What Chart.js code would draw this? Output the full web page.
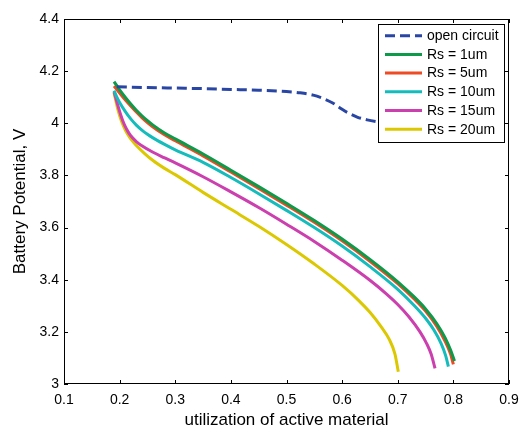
<!DOCTYPE html>
<html>
<head>
<meta charset="utf-8">
<script src="https://cdn.jsdelivr.net/npm/chart.js@4"></script>
<style>
  html, body { margin: 0; padding: 0; background: #fff; }
  #wrap { width: 521px; height: 431px; }
</style>
</head>
<body>
<div id="wrap"><canvas id="c" width="521" height="431"></canvas></div>
<script>
// Discharge curves: battery potential vs. utilization of active material
const seriesNames = ['open circuit', 'Rs = 1um', 'Rs = 5um', 'Rs = 10um', 'Rs = 15um', 'Rs = 20um'];

const uOpen = [0.195, 0.25, 0.30, 0.35, 0.40, 0.45, 0.50, 0.524, 0.548, 0.566, 0.584, 0.597, 0.609, 0.627, 0.645, 0.665, 0.70, 0.75, 0.80];
const vOpen = [4.140, 4.137, 4.135, 4.133, 4.130, 4.127, 4.122, 4.117, 4.108, 4.095, 4.077, 4.058, 4.042, 4.024, 4.013, 4.005, 3.995, 3.985, 3.975];

const u1 = [0.190, 0.200, 0.210, 0.220, 0.230, 0.240, 0.250, 0.260, 0.280, 0.300, 0.350, 0.400, 0.450, 0.500, 0.550, 0.600, 0.650, 0.700, 0.730, 0.750, 0.770, 0.785, 0.795, 0.802];
const v1 = [4.160, 4.128, 4.100, 4.074, 4.050, 4.029, 4.010, 3.993, 3.964, 3.940, 3.882, 3.820, 3.757, 3.693, 3.627, 3.556, 3.478, 3.392, 3.333, 3.288, 3.232, 3.178, 3.130, 3.088];

const u5 = [0.190, 0.200, 0.210, 0.220, 0.230, 0.240, 0.250, 0.260, 0.280, 0.300, 0.350, 0.400, 0.450, 0.500, 0.550, 0.600, 0.650, 0.700, 0.730, 0.750, 0.770, 0.785, 0.795, 0.800];
const v5 = [4.143, 4.116, 4.090, 4.066, 4.043, 4.022, 4.003, 3.986, 3.957, 3.933, 3.875, 3.813, 3.750, 3.686, 3.620, 3.549, 3.471, 3.385, 3.325, 3.280, 3.222, 3.165, 3.115, 3.075];

const u10 = [0.190, 0.195, 0.200, 0.210, 0.220, 0.230, 0.240, 0.250, 0.260, 0.280, 0.300, 0.350, 0.400, 0.450, 0.500, 0.550, 0.600, 0.650, 0.700, 0.730, 0.750, 0.765, 0.778, 0.786, 0.791];
const v10 = [4.125, 4.100, 4.080, 4.046, 4.017, 3.993, 3.974, 3.958, 3.944, 3.920, 3.898, 3.850, 3.792, 3.730, 3.666, 3.600, 3.529, 3.450, 3.363, 3.300, 3.252, 3.207, 3.155, 3.110, 3.067];

const u15 = [0.190, 0.194, 0.198, 0.202, 0.206, 0.210, 0.215, 0.220, 0.230, 0.240, 0.260, 0.280, 0.300, 0.350, 0.400, 0.450, 0.500, 0.550, 0.600, 0.650, 0.680, 0.700, 0.720, 0.740, 0.752, 0.760, 0.767];
const v15 = [4.121, 4.090, 4.060, 4.032, 4.008, 3.988, 3.968, 3.952, 3.930, 3.914, 3.889, 3.868, 3.848, 3.795, 3.737, 3.677, 3.613, 3.547, 3.475, 3.398, 3.345, 3.305, 3.258, 3.200, 3.155, 3.115, 3.060];

const u20 = [0.190, 0.193, 0.196, 0.200, 0.205, 0.210, 0.215, 0.220, 0.230, 0.245, 0.260, 0.280, 0.300, 0.350, 0.400, 0.450, 0.500, 0.550, 0.600, 0.630, 0.650, 0.670, 0.685, 0.695, 0.701];
const v20 = [4.117, 4.088, 4.060, 4.030, 3.999, 3.975, 3.956, 3.940, 3.915, 3.884, 3.857, 3.828, 3.803, 3.735, 3.670, 3.605, 3.535, 3.460, 3.378, 3.320, 3.275, 3.220, 3.170, 3.115, 3.047];

const xTicks = [0.1, 0.2, 0.3, 0.4, 0.5, 0.6, 0.7, 0.8, 0.9];
const xTickLabels = ['0.1', '0.2', '0.3', '0.4', '0.5', '0.6', '0.7', '0.8', '0.9'];
const yTicks = [3, 3.2, 3.4, 3.6, 3.8, 4, 4.2, 4.4];
const yTickLabels = ['3', '3.2', '3.4', '3.6', '3.8', '4', '4.2', '4.4'];

const colors = ['#2a46a4', '#0d9a4a', '#ee4a24', '#16bcbc', '#cc3fae', '#dcc800'];

const pts = (us, vs) => us.map((u, i) => ({ x: u, y: vs[i] }));
const seriesData = [pts(uOpen, vOpen), pts(u1, v1), pts(u5, v5), pts(u10, v10), pts(u15, v15), pts(u20, v20)];

const FONT = '"Liberation Sans", Arial, Helvetica, sans-serif';

// Box frame with inward tick marks on all four sides
const framePlugin = {
  id: 'frame',
  afterDatasetsDraw(chart) {
    const { ctx, chartArea: a, scales } = chart;
    const tl = 4;
    ctx.save();
    ctx.strokeStyle = '#000';
    ctx.lineWidth = 1;
    ctx.beginPath();
    scales.x.ticks.forEach(t => {
      const px = Math.round(scales.x.getPixelForValue(t.value)) + 0.5;
      ctx.moveTo(px, a.bottom); ctx.lineTo(px, a.bottom - tl);
      ctx.moveTo(px, a.top); ctx.lineTo(px, a.top + tl);
    });
    scales.y.ticks.forEach(t => {
      const py = Math.round(scales.y.getPixelForValue(t.value)) + 0.5;
      ctx.moveTo(a.left, py); ctx.lineTo(a.left + tl, py);
      ctx.moveTo(a.right, py); ctx.lineTo(a.right - tl, py);
    });
    ctx.stroke();
    ctx.strokeRect(a.left + 0.5, a.top + 0.5, a.right - a.left - 1, a.bottom - a.top - 1);
    ctx.restore();
  }
};

// Legend boxed inside the upper-right corner of the plot
const insideLegend = {
  id: 'insideLegend',
  afterDraw(chart) {
    const { ctx, chartArea: a } = chart;
    const w = 126, rowH = 18.7, h = 118;
    const x0 = a.right - 5 - w, y0 = a.top + 5;
    ctx.save();
    ctx.fillStyle = '#fff';
    ctx.fillRect(x0, y0, w, h);
    ctx.strokeStyle = '#000';
    ctx.lineWidth = 1;
    ctx.strokeRect(x0 + 0.5, y0 + 0.5, w, h);
    ctx.font = '14px ' + FONT;
    ctx.textBaseline = 'middle';
    ctx.textAlign = 'left';
    chart.data.datasets.forEach((ds, i) => {
      const cy = y0 + 11.7 + i * rowH;
      ctx.beginPath();
      ctx.strokeStyle = ds.borderColor;
      ctx.lineWidth = 3;
      ctx.setLineDash(ds.borderDash || []);
      ctx.moveTo(x0 + 7, cy);
      ctx.lineTo(x0 + 44, cy);
      ctx.stroke();
      ctx.setLineDash([]);
      ctx.fillStyle = '#000';
      ctx.fillText(ds.label, x0 + 49, cy + 0.5);
    });
    ctx.restore();
  }
};

new Chart(document.getElementById('c'), {
  type: 'line',
  data: {
    datasets: seriesNames.map((name, i) => ({
      label: name,
      data: seriesData[i],
      borderColor: colors[i],
      borderWidth: 3,
      borderDash: i === 0 ? [10, 5] : undefined,
      pointRadius: 0,
      fill: false,
      cubicInterpolationMode: 'monotone'
    }))
  },
  options: {
    responsive: false,
    animation: false,
    events: [],
    layout: { padding: { top: 19, right: 12, left: 0, bottom: 0 } },
    plugins: { legend: { display: false }, tooltip: { enabled: false } },
    scales: {
      x: {
        type: 'linear',
        min: 0.1, max: 0.9,
        grid: { display: false, drawTicks: false },
        border: { display: false },
        afterBuildTicks(s) { s.ticks = xTicks.map(v => ({ value: v })); },
        afterFit(s) { s.height = 47; s.paddingLeft = 0; s.paddingRight = 0; },
        ticks: {
          autoSkip: false, maxRotation: 0, padding: 8,
          color: '#000', font: { family: FONT, size: 14 },
          callback: (v, i) => xTickLabels[i]
        },
        title: {
          display: true, text: 'utilization of active material',
          color: '#000', font: { family: FONT, size: 17 },
          padding: { top: 0, bottom: 0 }
        }
      },
      y: {
        type: 'linear',
        min: 3, max: 4.4,
        grid: { display: false, drawTicks: false },
        border: { display: false },
        afterBuildTicks(s) { s.ticks = yTicks.map(v => ({ value: v })); },
        afterFit(s) { s.width = 64; s.paddingTop = 0; s.paddingBottom = 0; },
        ticks: {
          autoSkip: false, padding: 5,
          color: '#000', font: { family: FONT, size: 14 },
          callback: (v, i) => yTickLabels[i]
        },
        title: {
          display: true, text: 'Battery Potential, V',
          color: '#000', font: { family: FONT, size: 17 },
          padding: { top: 10, bottom: 0 }
        }
      }
    }
  },
  plugins: [framePlugin, insideLegend]
});
</script>
</body>
</html>
